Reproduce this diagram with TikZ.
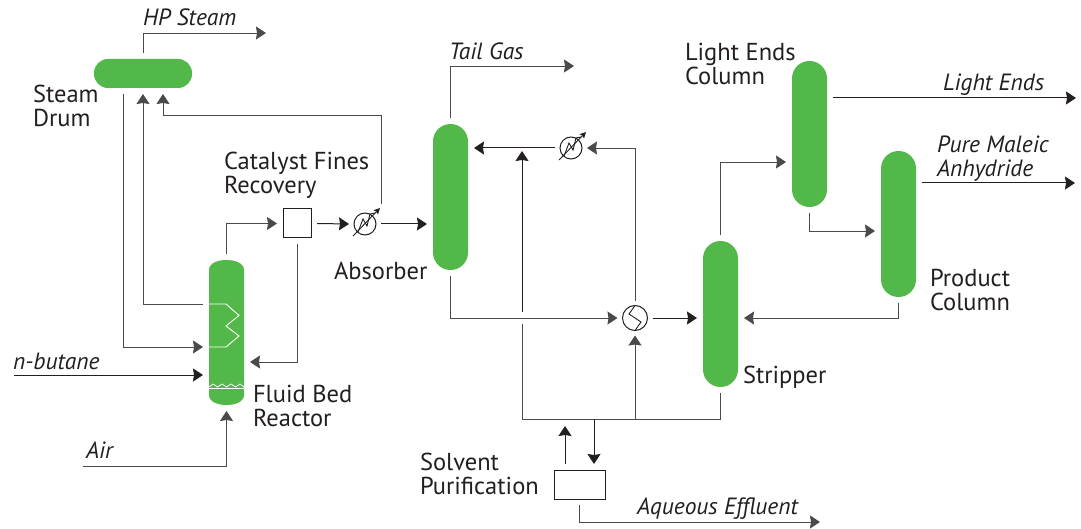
\documentclass[tikz,border=0pt]{standalone}
\usepackage{fontspec}
\setmainfont{PT Sans}
\usetikzlibrary{arrows.meta,calc}
\definecolor{vesselgreen}{HTML}{52B84A}
\definecolor{linegrey}{HTML}{4A4A4A}
\definecolor{inkdark}{HTML}{231F20}
\tikzset{
  x=1pt,y=-1pt,
  column/.style={rectangle,fill=vesselgreen,draw=none,rounded corners=17.4pt,minimum width=35pt,minimum height=146pt,inner sep=0pt,outer sep=6pt},
  tlabel/.style={anchor=west,inner sep=0pt,outer sep=0pt,align=left,text=inkdark,font=\fontsize{24.5}{24}\selectfont},
  stream/.style={anchor=west,inner sep=0pt,outer sep=0pt,align=left,text=inkdark,font=\fontsize{23.5}{24}\selectfont\itshape},
  pipe/.style={draw=linegrey,line width=0.9pt,-{Stealth[length=10pt,width=13pt,inset=1pt]}},
  pipedark/.style={draw=inkdark,line width=1pt,-{Stealth[length=10pt,width=13pt,inset=1pt]}},
  plainpipe/.style={draw=linegrey,line width=0.9pt},
  unitbox/.style={rectangle,draw=inkdark,line width=1pt,fill=white,inner sep=0pt,outer sep=6pt},
  hx/.style={circle,draw=inkdark,line width=1pt,inner sep=0pt,minimum size=22pt,outer sep=5pt},
  coil/.style={draw=white,line width=0.9pt},
}
\begin{document}
\begin{tikzpicture}
\useasboundingbox (0,0) rectangle (1081,529);
% vessels
\node[column,rounded corners=14pt,minimum width=98pt,minimum height=29pt] (drum) at (143,73.5) {};
\node[inner sep=0pt,outer sep=6pt,minimum width=35pt,minimum height=145pt] (reactor) at (226.5,332.5) {};
\fill[vesselgreen] (209,270) .. controls (209,263) and (218,260) .. (226.5,260) .. controls (235,260) and (244,263) .. (244,270)
  -- (244,395) .. controls (244,402) and (235,405) .. (226.5,405) .. controls (218,405) and (209,402) .. (209,395) -- cycle;
\node[column] (absorber) at (450.5,197) {};
\node[column] (stripper) at (720.5,314) {};
\node[column] (lightcol) at (809.5,134) {};
\node[column] (prodcol) at (898.5,224) {};
% reactor internals
\draw[coil] (209,304) -- (226,304) -- (239,315.5) -- (226,326) -- (239,336) -- (226,347) -- (209,347);
\draw[coil,line width=1.3pt] (209,388.5) -- (244,388.5);
\draw[coil,line width=0.7pt] (209,387) -- (213,384) -- (217.5,387) -- (222,384) -- (226.5,387) -- (231,384) -- (235.5,387) -- (240,384) -- (244,387);
% units
\node[unitbox,minimum width=28pt,minimum height=29pt] (fines) at (297,223.5) {};
\node[unitbox,minimum width=51pt,minimum height=29pt] (solvent) at (579.5,484.5) {};
\node[hx] (cool1) at (365,224) {};
\node[hx] (cool2) at (571,148) {};
\node[hx,minimum size=25pt] (heat) at (635,318) {};
\draw[inkdark,line width=0.9pt,-{Stealth[length=6pt,width=6pt,inset=1pt]}] (353,236) -- (380,208);
\draw[inkdark,line width=0.9pt] (358,232) -- (363,219) -- (367,226) -- (370,214) -- (375,213);
\draw[inkdark,line width=0.9pt,-{Stealth[length=6pt,width=6pt,inset=1pt]}] (559,160) -- (586,132);
\draw[inkdark,line width=0.9pt] (564,156) -- (569,143) -- (573,150) -- (576,138) -- (581,137);
\draw[inkdark,line width=0.9pt] (635,305.5) -- (629,314) -- (641,322) -- (635,330.5);
% free ends
\coordinate (hpend) at (266,33);
\coordinate (tailend) at (574,66);
\coordinate (lightend) at (1076,98);
\coordinate (pureend) at (1075,183);
\coordinate (effend) at (820,522);
\coordinate (butane) at (14,375);
\coordinate (airin) at (83,466);
\coordinate (jsolv) at (594,419);
\coordinate (jheat) at (635,419);
\coordinate (jleft) at (522,419);
% connectors
\draw[pipe] (drum.north) |- (hpend);
\draw[pipe] (123,94) |- (reactor.west |- 0,347);
\draw[pipe] (reactor.west |- 0,304) -- (143,304) -- (143,94);
\draw[pipe] (381,204) |- (163,115) -- (163,94);
\draw[pipe] (reactor.north) |- (fines.west);
\draw[pipe] (fines.south) |- (reactor.east |- 0,362);
\draw[pipedark] (butane) -- (reactor.west |- butane);
\draw[pipe] (airin) -| (reactor.south);
\draw[pipedark] (fines.east) -- (cool1.west);
\draw[pipedark] (cool1.east) -- (absorber.west |- cool1);
\draw[pipe] (absorber.north) |- (tailend);
\draw[pipe] (absorber.south) |- (heat.west);
\draw[pipedark] (heat.east) -- (stripper.west |- heat);
\draw[pipe] (prodcol.south) |- (stripper.east |- heat);
\draw[pipedark] (cool2.west) -- (absorber.east |- cool2);
\draw[pipe] (heat.north) |- (cool2.east);
\draw[pipedark] (522,312) -- (522,151);
\draw[plainpipe] (522,324) -- (jleft) -| (stripper.south);
\draw[pipe] (jheat) -- (heat.south);
\draw[pipedark] (565,464) -- (565,426);
\draw[pipedark] (jsolv) -- (solvent.north -| jsolv);
\draw[pipe] (solvent.south) |- (effend);
\draw[pipe] (stripper.north) |- (lightcol.west |- 0,162);
\draw[pipe] (lightcol.south) |- (prodcol.west |- 0,231);
\draw[pipedark] (lightcol.east |- lightend) -- (lightend);
\draw[pipedark] (prodcol.east |- pureend) -- (pureend);
% labels
\node[stream] (lhp) at (143,17) {HP Steam};
\node[tlabel] (ldrum) at (33,106) {Steam\\Drum};
\node[tlabel] (lfines) at (224,175.5) {Catalyst Fines\\Recovery};
\node[tlabel] (labs) at (334,271) {Absorber};
\node[tlabel] (lreact) at (253,406) {Fluid Bed\\Reactor};
\node[stream] (lbut) at (13,361) {n-butane};
\node[stream] (lair) at (86,450) {Air};
\node[stream] (ltail) at (449,51) {Tail Gas};
\node[tlabel] (llec) at (685,64) {Light Ends\\Column};
\node[stream] (lle) at (943,85) {Light Ends};
\node[stream] (lpma) at (937,159) {Pure Maleic\\Anhydride};
\node[tlabel] (lpc) at (930,290) {Product\\Column};
\node[tlabel] (lstrip) at (743,377.5) {Stripper};
\node[tlabel] (lsolv) at (420,474) {Solvent\\Purification};
\node[stream] (laq) at (637,509) {Aqueous Effluent};
\end{tikzpicture}
\end{document}
